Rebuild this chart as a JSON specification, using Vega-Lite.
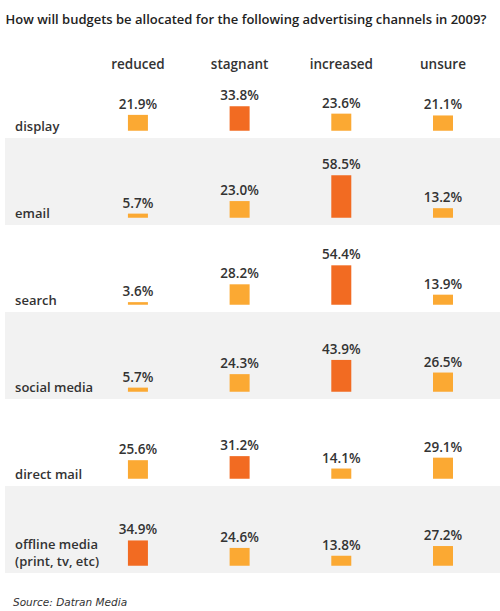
{
  "$schema": "https://vega.github.io/schema/vega-lite/v6.json",
  "background": "white",
  "padding": {"left": 5, "top": 13, "right": 0, "bottom": 0},
  "title": {
    "text": "Source: Datran Media",
    "orient": "bottom",
    "anchor": "start",
    "dx": 8,
    "offset": 25,
    "font": "DejaVu Sans",
    "fontSize": 10.5,
    "fontStyle": "italic",
    "fontWeight": "normal",
    "color": "#333333"
  },
  "data": {
    "values": [
      {"channel": "display", "status": "reduced", "value": 0.219},
      {"channel": "display", "status": "stagnant", "value": 0.338},
      {"channel": "display", "status": "increased", "value": 0.236},
      {"channel": "display", "status": "unsure", "value": 0.211},
      {"channel": "email", "status": "reduced", "value": 0.057},
      {"channel": "email", "status": "stagnant", "value": 0.230},
      {"channel": "email", "status": "increased", "value": 0.585},
      {"channel": "email", "status": "unsure", "value": 0.132},
      {"channel": "search", "status": "reduced", "value": 0.036},
      {"channel": "search", "status": "stagnant", "value": 0.282},
      {"channel": "search", "status": "increased", "value": 0.544},
      {"channel": "search", "status": "unsure", "value": 0.139},
      {"channel": "social media", "status": "reduced", "value": 0.057},
      {"channel": "social media", "status": "stagnant", "value": 0.243},
      {"channel": "social media", "status": "increased", "value": 0.439},
      {"channel": "social media", "status": "unsure", "value": 0.265},
      {"channel": "direct mail", "status": "reduced", "value": 0.256},
      {"channel": "direct mail", "status": "stagnant", "value": 0.312},
      {"channel": "direct mail", "status": "increased", "value": 0.141},
      {"channel": "direct mail", "status": "unsure", "value": 0.291},
      {"channel": "offline media\n(print, tv, etc)", "status": "reduced", "value": 0.349},
      {"channel": "offline media\n(print, tv, etc)", "status": "stagnant", "value": 0.246},
      {"channel": "offline media\n(print, tv, etc)", "status": "increased", "value": 0.138},
      {"channel": "offline media\n(print, tv, etc)", "status": "unsure", "value": 0.272}
    ]
  },
  "transform": [
    {"joinaggregate": [{"op": "max", "field": "value", "as": "rowMax"}], "groupby": ["channel"]}
  ],
  "facet": {
    "row": {
      "field": "channel",
      "type": "nominal",
      "sort": ["display", "email", "search", "social media", "direct mail", "offline media\n(print, tv, etc)"],
      "header": null
    }
  },
  "spacing": 0,
  "bounds": "flush",
  "spec": {
    "width": 495,
    "height": 87,
    "layer": [
      {
        "mark": {"type": "rect"},
        "encoding": {
          "fill": {
            "condition": {
              "test": "datum.channel == 'email' || datum.channel == 'social media' || indexof(datum.channel, 'offline') == 0",
              "value": "#f2f2f2"
            },
            "value": "transparent"
          }
        }
      },
      {
        "mark": {"type": "bar", "width": 20},
        "encoding": {
          "x": {
            "field": "status",
            "type": "nominal",
            "sort": ["reduced", "stagnant", "increased", "unsure"],
            "scale": {
              "domain": ["reduced", "stagnant", "increased", "unsure"],
              "paddingInner": 0,
              "paddingOuter": 0.434,
              "align": 0.93
            },
            "axis": {
              "orient": "top",
              "title": "How will budgets be allocated for the following advertising channels in 2009?",
              "titleAnchor": "start",
              "titleAlign": "left",
              "titleFont": "Open Sans",
              "titleFontSize": 13,
              "titleFontWeight": 600,
              "titleColor": "#222222",
              "titlePadding": 31,
              "labelFont": "Open Sans",
              "labelFontSize": 13.5,
              "labelFontWeight": 600,
              "labelColor": "#333333",
              "labelAngle": 0,
              "labelPadding": 0,
              "domain": false,
              "ticks": false,
              "tickSize": 0,
              "offset": -20
            }
          },
          "y": {
            "field": "value",
            "type": "quantitative",
            "stack": null,
            "scale": {"domain": [-0.035, 1.025]},
            "axis": null
          },
          "color": {
            "condition": {"test": "datum.value == datum.rowMax", "value": "#F26B22"},
            "value": "#FBA933"
          }
        }
      },
      {
        "mark": {
          "type": "text",
          "baseline": "bottom",
          "dy": -3,
          "font": "Open Sans",
          "fontSize": 13.5,
          "fontWeight": 600,
          "color": "#333333"
        },
        "encoding": {
          "x": {"field": "status", "type": "nominal", "sort": ["reduced", "stagnant", "increased", "unsure"]},
          "y": {"field": "value", "type": "quantitative", "stack": null, "axis": null},
          "text": {"field": "value", "type": "quantitative", "format": ".1%"}
        }
      },
      {
        "transform": [{"filter": "datum.status == 'reduced' && indexof(datum.channel, 'offline') < 0"}],
        "mark": {
          "type": "text",
          "align": "left",
          "baseline": "bottom",
          "dy": 3,
          "font": "Open Sans",
          "fontSize": 13,
          "fontWeight": 600,
          "color": "#333333"
        },
        "encoding": {
          "x": {"field": "status", "type": "nominal", "bandPosition": -0.708},
          "y": {"datum": 0, "type": "quantitative", "axis": null},
          "text": {"field": "channel", "type": "nominal"}
        }
      },
      {
        "transform": [{"filter": "datum.status == 'reduced' && indexof(datum.channel, 'offline') >= 0"}],
        "mark": {
          "type": "text",
          "align": "left",
          "baseline": "bottom",
          "dy": -14,
          "lineBreak": "\n",
          "lineHeight": 17,
          "font": "Open Sans",
          "fontSize": 13,
          "fontWeight": 600,
          "color": "#333333"
        },
        "encoding": {
          "x": {"field": "status", "type": "nominal", "bandPosition": -0.708},
          "y": {"datum": 0, "type": "quantitative", "axis": null},
          "text": {"field": "channel", "type": "nominal"}
        }
      }
    ]
  },
  "config": {
    "view": {"stroke": null}
  }
}
